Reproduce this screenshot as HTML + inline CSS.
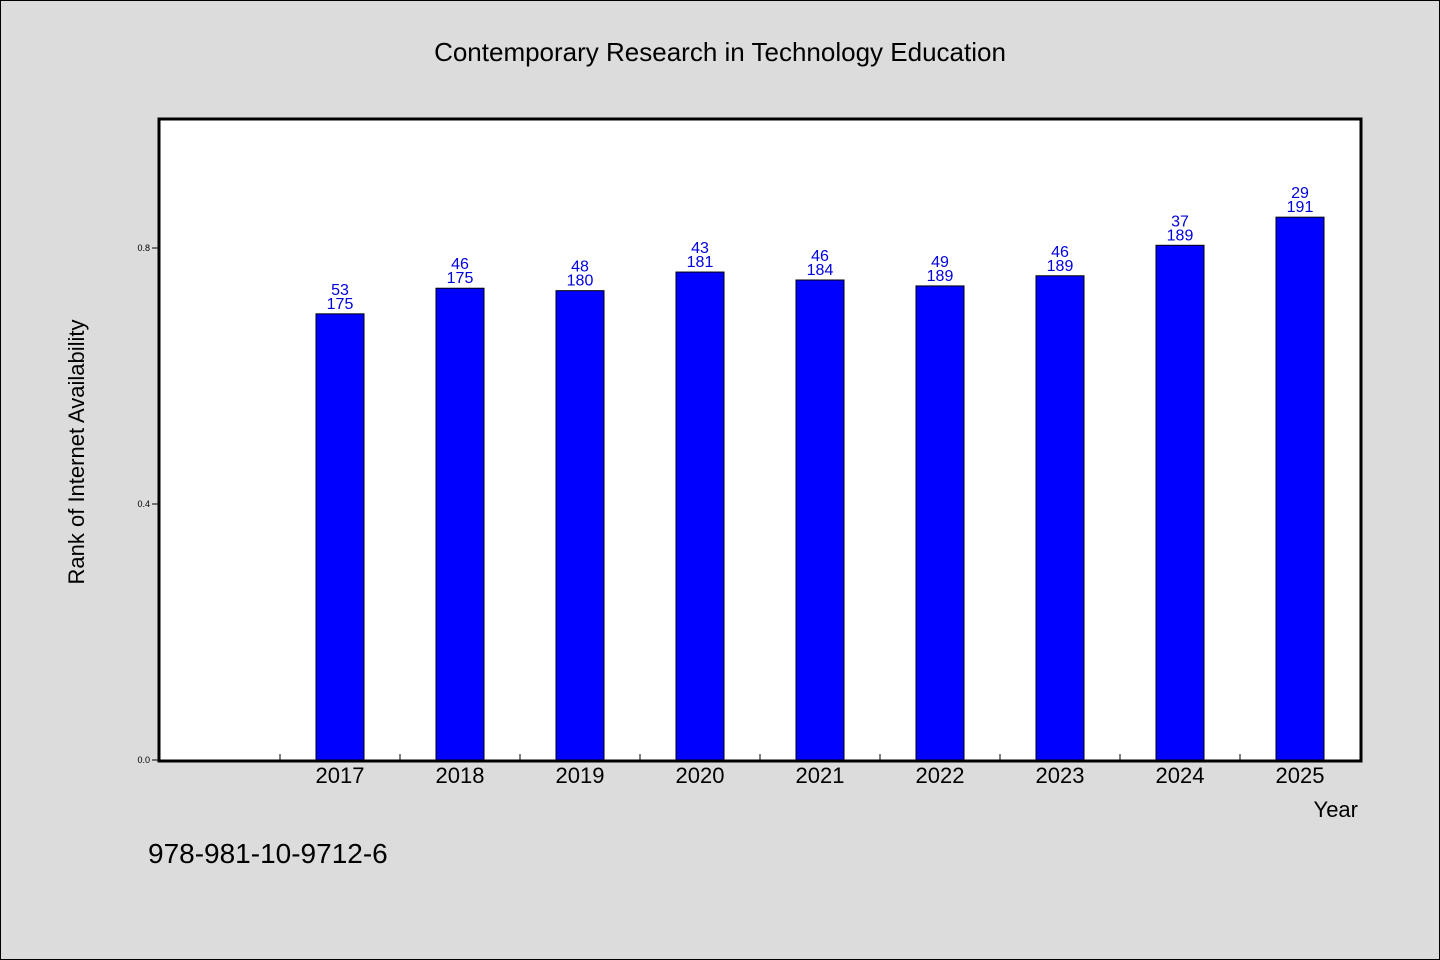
<!DOCTYPE html>
<html><head><meta charset="utf-8"><style>
body{margin:0;background:#dcdcdc;}
svg{display:block;font-family:"WenQuanYi Zen Hei","Liberation Sans",sans-serif;}
</style></head><body>
<svg id="c" width="1440" height="960">
<rect x="0.5" y="0.5" width="1439" height="959" fill="#dcdcdc" stroke="#000"/>
<text x="720" y="61" text-anchor="middle" font-size="26">Contemporary Research in Technology Education</text>
<rect x="159" y="119" width="1202" height="642" fill="#fff"/>
<g id="marks"></g>
<rect x="159" y="119" width="1202" height="642" fill="none" stroke="#000" stroke-width="3"/>
<text transform="translate(84,452) rotate(-90)" text-anchor="middle" font-size="22">Rank of Internet Availability</text>
<text x="1358" y="817" text-anchor="end" font-size="22">Year</text>
<text x="148" y="863" font-size="28">978-981-10-9712-6</text>
</svg>
<script>
const years=["2017","2018","2019","2020","2021","2022","2023","2024","2025"];
const ranks=[53,46,48,43,46,49,46,37,29];
const totals=[175,175,180,181,184,189,189,189,191];
const yTicks=[0,0.4,0.8];
const yTickLabels=["0.0","0.4","0.8"];
const NS="http://www.w3.org/2000/svg";
const g=document.getElementById('marks');
function y(v){return 760-v*640;}
function x(i){return 340+i*120;}
function mk(t,a){const e=document.createElementNS(NS,t);for(const k in a)e.setAttribute(k,a[k]);g.appendChild(e);return e;}
yTicks.forEach((v,i)=>{
 const t=mk('line',{x1:152,x2:159,y1:y(v),y2:y(v),stroke:'#000'});
 
 
 const l=mk('text',{x:150,y:y(v)+3,'text-anchor':'end','font-size':9});
 l.textContent=yTickLabels[i];
 
 
});
for(let i=0;i<=years.length;i++){
 const t=mk('line',{x1:280+(i-1)*120+120-120+0,x2:280+(i-1)*120,y1:754,y2:760,stroke:'#000'});
 t.setAttribute('x1',280+(i-1)*120+0);t.setAttribute('x1',280+i*120-120);t.setAttribute('x2',280+i*120-120);
 
 
}
years.forEach((yr,i)=>{
 const v=1-ranks[i]/totals[i];
 const b=mk('rect',{x:x(i)-24,y:y(v),width:48,height:760-y(v),fill:'#0000ff',stroke:'#000','stroke-width':1});
 
 
 const t1=mk('text',{x:x(i),y:y(v)-19,'text-anchor':'middle','font-size':16,fill:'#0000dd'});
 t1.textContent=ranks[i];
 
 
 const t2=mk('text',{x:x(i),y:y(v)-5,'text-anchor':'middle','font-size':16,fill:'#0000dd'});
 t2.textContent=totals[i];
 
 
 const xl=mk('text',{x:x(i),y:783,'text-anchor':'middle','font-size':22});
 xl.textContent=yr;
 
 
});
</script>
</body></html>
